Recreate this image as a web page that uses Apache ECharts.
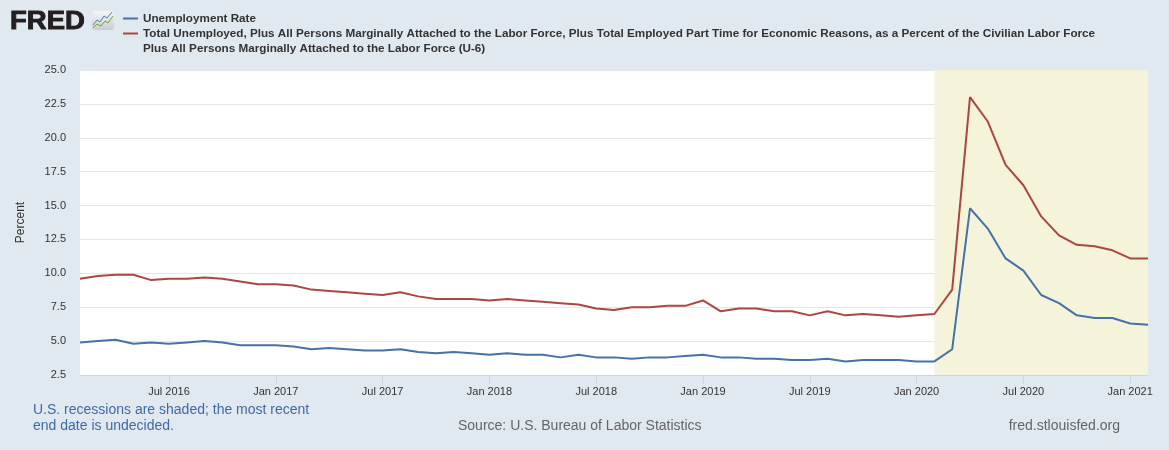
<!DOCTYPE html>
<html>
<head>
<meta charset="utf-8">
<title>FRED - Unemployment Rate and U-6</title>
<script src="https://cdn.jsdelivr.net/npm/echarts@6/dist/echarts.min.js"></script>
<style>
  html, body { margin: 0; padding: 0; background: #e1e9f0; }
  #chart { width: 1169px; height: 450px; }
</style>
</head>
<body>
<div id="chart"></div>
<script>
// monthly observations, Feb 2016 - Feb 2021
var months = [
  '2016-02','2016-03','2016-04','2016-05','2016-06','2016-07','2016-08','2016-09','2016-10','2016-11','2016-12',
  '2017-01','2017-02','2017-03','2017-04','2017-05','2017-06','2017-07','2017-08','2017-09','2017-10','2017-11','2017-12',
  '2018-01','2018-02','2018-03','2018-04','2018-05','2018-06','2018-07','2018-08','2018-09','2018-10','2018-11','2018-12',
  '2019-01','2019-02','2019-03','2019-04','2019-05','2019-06','2019-07','2019-08','2019-09','2019-10','2019-11','2019-12',
  '2020-01','2020-02','2020-03','2020-04','2020-05','2020-06','2020-07','2020-08','2020-09','2020-10','2020-11','2020-12',
  '2021-01','2021-02'
];

var unrate = [
  4.9, 5.0, 5.1, 4.8, 4.9, 4.8, 4.9, 5.0, 4.9, 4.7, 4.7,
  4.7, 4.6, 4.4, 4.5, 4.4, 4.3, 4.3, 4.4, 4.2, 4.1, 4.2, 4.1,
  4.0, 4.1, 4.0, 4.0, 3.8, 4.0, 3.8, 3.8, 3.7, 3.8, 3.8, 3.9,
  4.0, 3.8, 3.8, 3.7, 3.7, 3.6, 3.6, 3.7, 3.5, 3.6, 3.6, 3.6,
  3.5, 3.5, 4.4, 14.8, 13.3, 11.1, 10.2, 8.4, 7.8, 6.9, 6.7, 6.7,
  6.3, 6.2
];

var u6rate = [
  9.6, 9.8, 9.9, 9.9, 9.5, 9.6, 9.6, 9.7, 9.6, 9.4, 9.2,
  9.2, 9.1, 8.8, 8.7, 8.6, 8.5, 8.4, 8.6, 8.3, 8.1, 8.1, 8.1,
  8.0, 8.1, 8.0, 7.9, 7.8, 7.7, 7.4, 7.3, 7.5, 7.5, 7.6, 7.6,
  8.0, 7.2, 7.4, 7.4, 7.2, 7.2, 6.9, 7.2, 6.9, 7.0, 6.9, 6.8,
  6.9, 7.0, 8.8, 23.0, 21.2, 18.0, 16.5, 14.2, 12.8, 12.1, 12.0, 11.7,
  11.1, 11.1
];

var recessionStart = '2020-02';
var recessionEnd = '2021-02';

var yTicks = { min: 2.5, max: 25, step: 2.5 };

var monthNames = ['Jan','Feb','Mar','Apr','May','Jun','Jul','Aug','Sep','Oct','Nov','Dec'];

function isLabelMonth(index, value) {
  var m = value.slice(5);
  return m === '01' || m === '07';
}

var font = '"Liberation Sans", Arial, sans-serif';
var legendFont = 'bold 11.7px "Liberation Sans", Arial, sans-serif';

var chart = echarts.init(document.getElementById('chart'));

var option = {
  backgroundColor: '#e1e9f0',
  animation: false,
  grid: { left: 80, right: 21, top: 70, bottom: 75, backgroundColor: '#fff', show: true, borderWidth: 0 },
  xAxis: {
    type: 'category',
    data: months,
    boundaryGap: false,
    axisLine: { lineStyle: { color: '#ccd6eb', width: 1 } },
    axisTick: { interval: isLabelMonth, length: 9, lineStyle: { color: '#ccd6eb' } },
    axisLabel: {
      interval: isLabelMonth,
      margin: 11,
      color: '#333',
      fontSize: 11,
      fontFamily: font,
      formatter: function (v) {
        return monthNames[parseInt(v.slice(5), 10) - 1] + ' ' + v.slice(0, 4);
      }
    },
    splitLine: { show: false }
  },
  yAxis: {
    type: 'value',
    min: yTicks.min,
    max: yTicks.max,
    interval: yTicks.step,
    name: 'Percent',
    nameLocation: 'middle',
    nameGap: 53,
    nameTextStyle: { color: '#333', fontSize: 12, fontFamily: font },
    axisLine: { show: false },
    axisTick: { show: false },
    axisLabel: {
      margin: 14,
      color: '#333',
      fontSize: 11,
      fontFamily: font,
      formatter: function (v) { return v.toFixed(1); }
    },
    splitLine: { lineStyle: { color: '#e6e6e6', width: 1 } }
  },
  graphic: [
    // FRED logo
    { type: 'text', x: 10, y: 10, scaleX: 1.1, style: { text: 'FRED', fill: '#231f20', stroke: '#231f20', lineWidth: 0.9,
        font: 'bold 25px "Liberation Sans", Arial, sans-serif' } },
    { type: 'rect', left: 92, top: 11, shape: { width: 22, height: 19, r: 3 },
      style: { fill: new echarts.graphic.LinearGradient(0, 0, 0, 1, [{ offset: 0, color: '#f4f6f8' }, { offset: 1, color: '#c9cdd1' }]) } },
    { type: 'polyline', shape: { points: [[93, 25], [97, 20], [100, 22], [104, 16], [107, 18], [112, 12]] },
      style: { stroke: '#4f7fb8', lineWidth: 1, fill: null } },
    { type: 'polyline', shape: { points: [[93, 28], [97, 24], [101, 26], [105, 21], [108, 23], [113, 16]] },
      style: { stroke: '#6ea13a', lineWidth: 1, fill: null } },
    // legend
    { type: 'line', shape: { x1: 123, y1: 18.5, x2: 138, y2: 18.5 }, style: { stroke: '#4572a7', lineWidth: 2 } },
    { type: 'line', shape: { x1: 123, y1: 33.5, x2: 138, y2: 33.5 }, style: { stroke: '#aa4643', lineWidth: 2 } },
    { type: 'text', left: 143, top: 13, style: { text: 'Unemployment Rate', fill: '#333', font: legendFont } },
    { type: 'text', left: 143, top: 28, style: {
        text: 'Total Unemployed, Plus All Persons Marginally Attached to the Labor Force, Plus Total Employed Part Time for Economic Reasons, as a Percent of the Civilian Labor Force',
        fill: '#333', font: legendFont } },
    { type: 'text', left: 143, top: 43, style: {
        text: 'Plus All Persons Marginally Attached to the Labor Force (U-6)',
        fill: '#333', font: legendFont } },
    // footer
    { type: 'text', left: 33, top: 402, style: {
        text: 'U.S. recessions are shaded; the most recent\nend date is undecided.',
        fill: '#3e6aa5', lineHeight: 16, font: '14px "Liberation Sans", Arial, sans-serif' } },
    { type: 'text', left: 458, top: 419, style: { text: 'Source: U.S. Bureau of Labor Statistics', fill: '#666', font: '14px "Liberation Sans", Arial, sans-serif' } },
    { type: 'text', right: 49, top: 419, style: { text: 'fred.stlouisfed.org', fill: '#666', font: '14px "Liberation Sans", Arial, sans-serif' } }
  ],
  series: [
    {
      name: 'Unemployment Rate',
      type: 'line',
      data: unrate,
      symbol: 'none',
      lineStyle: { color: '#4572a7', width: 2 },
      itemStyle: { color: '#4572a7' },
      z: 3,
      markArea: {
        silent: true,
        itemStyle: { color: '#f5f4da' },
        data: [[{ xAxis: recessionStart }, { xAxis: recessionEnd }]]
      }
    },
    {
      name: 'U-6',
      type: 'line',
      data: u6rate,
      symbol: 'none',
      lineStyle: { color: '#aa4643', width: 2 },
      itemStyle: { color: '#aa4643' },
      z: 3
    }
  ]
};

chart.setOption(option);
</script>
</body>
</html>
